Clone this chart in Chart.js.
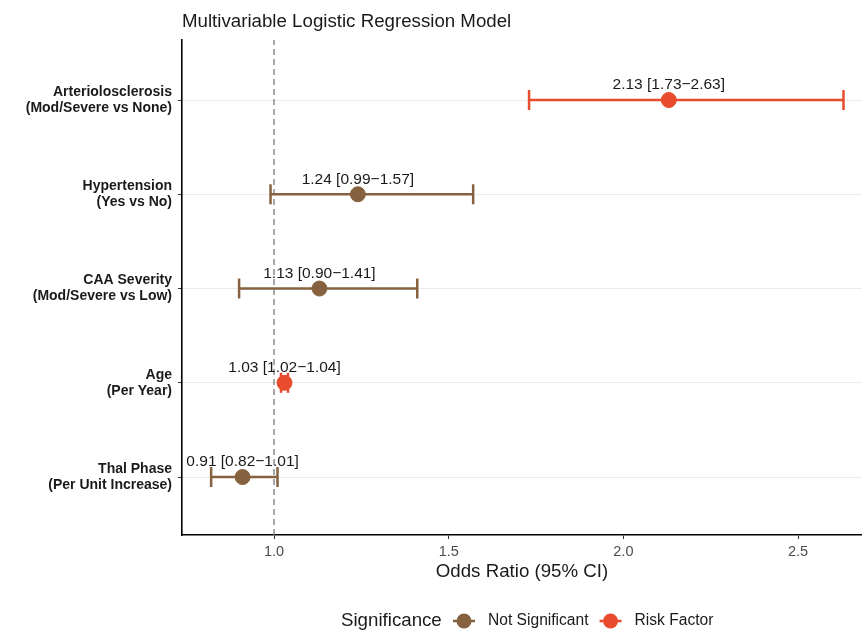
<!DOCTYPE html>
<html>
<head>
<meta charset="utf-8">
<script src="https://cdn.jsdelivr.net/npm/chart.js@4.4.1/dist/chart.umd.min.js"></script>
<style>
html,body{margin:0;padding:0;background:#fff;}
#wrap{width:862px;height:630px;position:relative;}
</style>
</head>
<body>
<div id="wrap"><canvas id="c" width="862" height="630"></canvas></div>
<script>
// ---- data (top-down order as in the picture) ----
const predictors = [
  ["Arteriolosclerosis", "(Mod/Severe vs None)"],
  ["Hypertension", "(Yes vs No)"],
  ["CAA Severity", "(Mod/Severe vs Low)"],
  ["Age", "(Per Year)"],
  ["Thal Phase", "(Per Unit Increase)"]
];
const oddsRatio = [2.13, 1.24, 1.13, 1.03, 0.91];
const ciLow     = [1.73, 0.99, 0.90, 1.02, 0.82];
const ciHigh    = [2.63, 1.57, 1.41, 1.04, 1.01];
const significance = ["Risk Factor", "Not Significant", "Not Significant", "Risk Factor", "Not Significant"];
const xTicks = [1.0, 1.5, 2.0, 2.5];
const legendItems = ["Not Significant", "Risk Factor"];

const COLORS = {"Not Significant": "#86613f", "Risk Factor": "#e84b2d"};
const FONT = "'Liberation Sans', Arial, Helvetica, sans-serif";
const n = predictors.length;
const yPos = i => n - 1 - i;
const Y_MIN = -0.615, Y_MAX = 4.637;

const datasets = [];
// reference line at OR = 1
datasets.push({
  type: 'line', data: [{x: 1, y: Y_MIN}, {x: 1, y: Y_MAX}],
  borderColor: '#7a7a7a', borderWidth: 1.3, borderDash: [6, 4],
  pointRadius: 0, order: 20
});
// CI bars with caps
predictors.forEach((p, i) => {
  const col = COLORS[significance[i]];
  datasets.push({
    type: 'line',
    data: [{x: ciLow[i], y: yPos(i)}, {x: ciHigh[i], y: yPos(i)}],
    borderColor: col, borderWidth: 2.5,
    pointStyle: 'line', pointRotation: 90, pointRadius: 10,
    pointBorderColor: col, pointBorderWidth: 2.5, pointBackgroundColor: col,
    order: 5, clip: false
  });
});
// points
datasets.push({
  type: 'scatter',
  data: oddsRatio.map((v, i) => ({x: v, y: yPos(i)})),
  pointRadius: 7.5, pointHoverRadius: 7.5,
  pointBackgroundColor: significance.map(s => COLORS[s]),
  pointBorderColor: significance.map(s => COLORS[s]),
  pointBorderWidth: 1, order: 0
});

const fmt = v => v.toFixed(2);

const extras = {
  id: 'extras',
  afterDatasetsDraw(chart) {
    const ctx = chart.ctx, xs = chart.scales.x, ys = chart.scales.y;
    ctx.save();
    ctx.fillStyle = '#1a1a1a';
    ctx.font = "15.5px " + FONT;
    ctx.textAlign = 'center';
    ctx.textBaseline = 'middle';
    oddsRatio.forEach((v, i) => {
      const txt = fmt(v) + " [" + fmt(ciLow[i]) + "\u2212" + fmt(ciHigh[i]) + "]";
      ctx.fillText(txt, xs.getPixelForValue(v), ys.getPixelForValue(yPos(i)) - 15);
    });
    ctx.restore();
  },
  afterDraw(chart) {
    const ctx = chart.ctx;
    ctx.save();
    // title
    ctx.fillStyle = '#1a1a1a';
    ctx.font = "18.7px " + FONT;
    ctx.textAlign = 'left';
    ctx.textBaseline = 'middle';
    ctx.fillText("Multivariable Logistic Regression Model", chart.chartArea.left, 22);
    // legend
    const ly = 621;
    ctx.font = "18.7px " + FONT;
    ctx.fillText("Significance", 341, ly);
    let x = 453;
    ctx.font = "15.6px " + FONT;
    legendItems.forEach(name => {
      const col = COLORS[name];
      ctx.strokeStyle = col; ctx.lineWidth = 2.5;
      ctx.beginPath(); ctx.moveTo(x, ly); ctx.lineTo(x + 22, ly); ctx.stroke();
      ctx.fillStyle = col;
      ctx.beginPath(); ctx.arc(x + 11, ly, 7.5, 0, Math.PI * 2); ctx.fill();
      ctx.fillStyle = '#1a1a1a';
      ctx.fillText(name, x + 35, ly);
      x += 35 + ctx.measureText(name).width + 11;
    });
    ctx.restore();
  }
};

new Chart(document.getElementById('c'), {
  data: {datasets},
  options: {
    responsive: false, animation: false,
    layout: {autoPadding: false, padding: {top: 40, right: 0, bottom: 47, left: 0}},
    plugins: {legend: {display: false}, tooltip: {enabled: false}},
    scales: {
      x: {
        type: 'linear', min: 0.7366, max: 2.683,
        afterBuildTicks: s => { s.ticks = xTicks.map(v => ({value: v})); },
        afterFit: s => { s.height = 48; },
        ticks: {callback: v => v.toFixed(1), color: '#4d4d4d', font: {family: FONT, size: 14.5}, padding: 4, maxRotation: 0},
        grid: {display: true, drawOnChartArea: false, drawTicks: true, tickLength: 4, tickColor: '#333', tickWidth: 1},
        border: {display: true, color: '#000', width: 1.6},
        title: {display: true, text: "Odds Ratio (95% CI)", color: '#1a1a1a', font: {family: FONT, size: 18.7}, padding: {top: 2, bottom: 0}}
      },
      y: {
        type: 'linear', min: Y_MIN, max: Y_MAX,
        afterBuildTicks: s => { s.ticks = predictors.map((p, i) => ({value: yPos(i)})); },
        afterFit: s => { s.width = 182; },
        ticks: {
          callback: v => predictors[n - 1 - v],
          color: '#1a1a1a', font: {family: FONT, size: 14, weight: 'bold', lineHeight: 1.15}, padding: 6
        },
        grid: {display: true, drawOnChartArea: true, color: '#ebebeb', lineWidth: 1, drawTicks: true, tickLength: 4, tickColor: '#333'},
        border: {display: true, color: '#000', width: 1.6}
      }
    }
  },
  plugins: [extras]
});
</script>
</body>
</html>
